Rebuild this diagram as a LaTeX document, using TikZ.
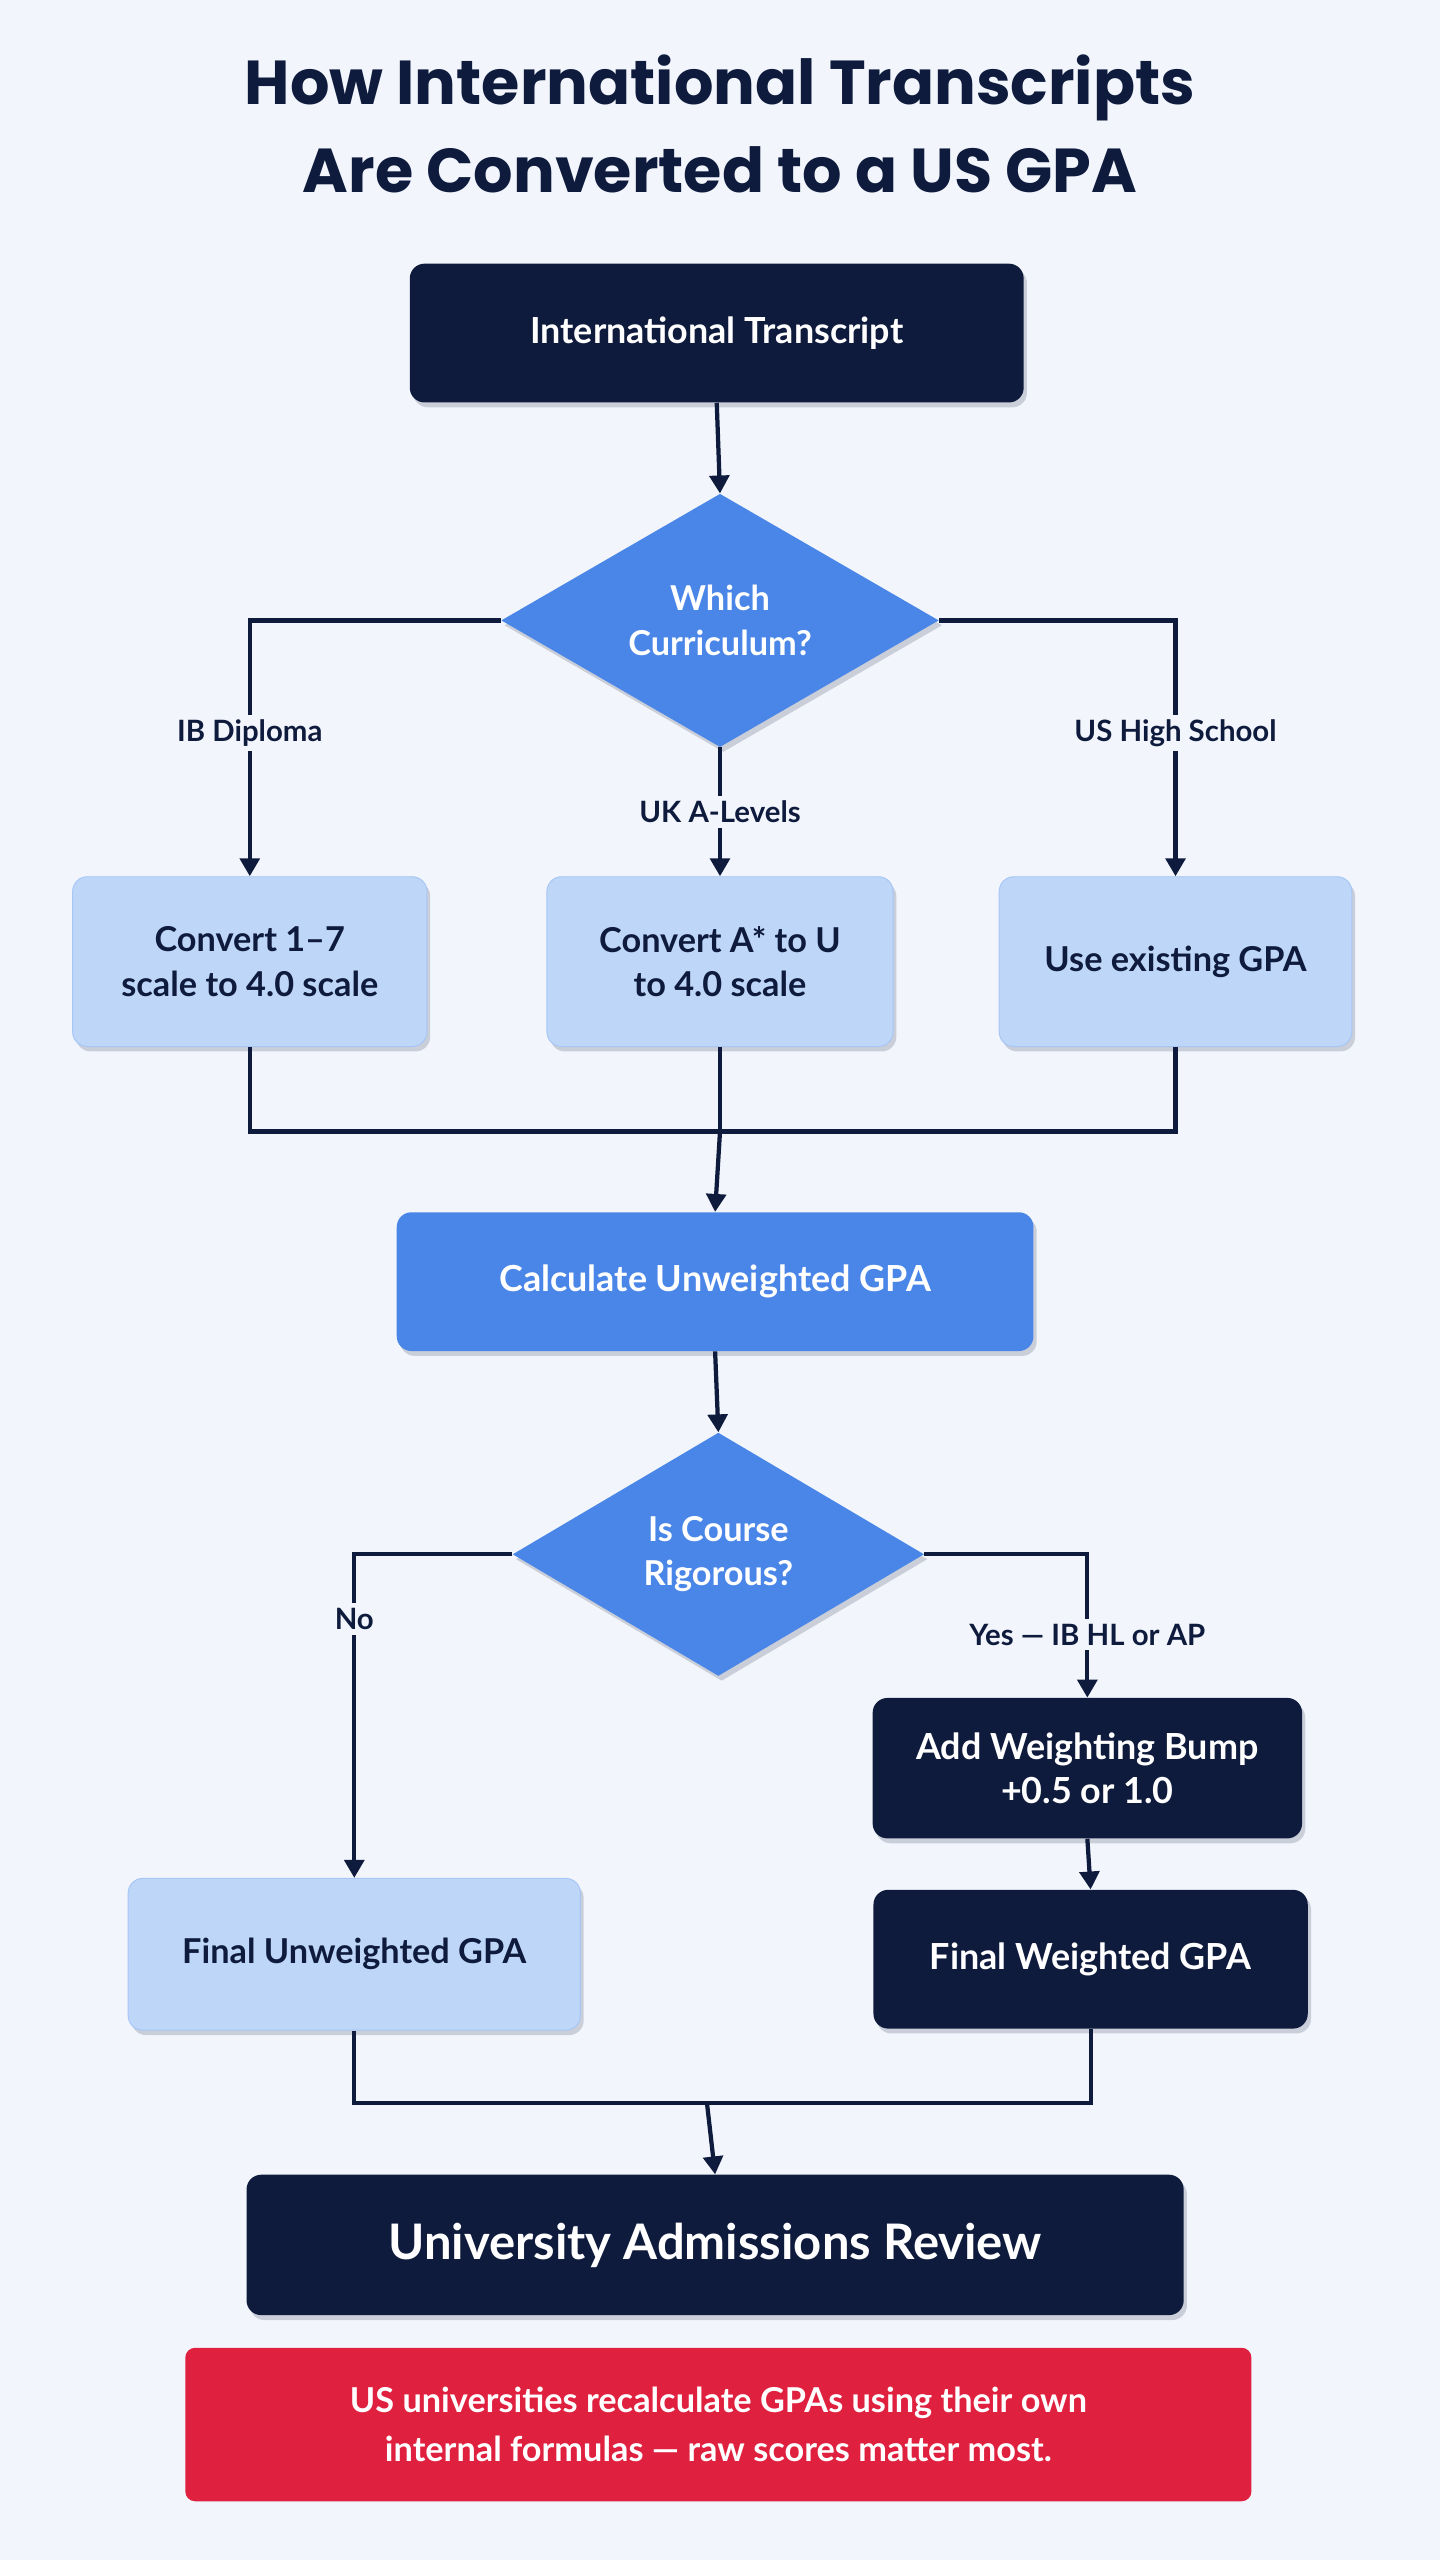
\documentclass[tikz,border=0pt]{standalone}
\usepackage{fontspec}
\setmainfont{Lato}
\newfontfamily\titlefont{Poppins}
\usetikzlibrary{shapes.geometric,arrows.meta,shadows}
\definecolor{navy}{HTML}{0F1B3D}
\definecolor{midblue}{HTML}{4A86E8}
\definecolor{lightblue}{HTML}{BED6F8}
\definecolor{bg}{HTML}{F2F6FC}
\definecolor{redbox}{HTML}{E0203F}
\begin{document}
\begin{tikzpicture}[x=1pt,y=-1pt,
  sh/.style={drop shadow={shadow xshift=2pt,shadow yshift=-3pt,opacity=0.18,fill=navy}},
  darkbox/.style={rounded corners=9pt,fill=navy,text=white,font=\fontsize{22}{27}\selectfont\bfseries,align=center,inner sep=0pt,sh},
  midbox/.style={rounded corners=9pt,fill=midblue,text=white,font=\fontsize{22}{27}\selectfont\bfseries,align=center,inner sep=0pt,sh},
  lightbox/.style={rounded corners=9pt,fill=lightblue,draw=lightblue!80!midblue,line width=0.6pt,text=navy,font=\fontsize{21}{27}\selectfont\bfseries,align=center,inner sep=0pt,sh},
  dia/.style={diamond,fill=midblue,text=white,font=\fontsize{21}{27}\selectfont\bfseries,align=center,inner sep=0pt,sh},
  conn/.style={draw=navy,line width=2.6pt},
  arr/.style={conn,-{Triangle[length=11pt,width=12pt]}},
  lbl/.style={text=navy,font=\fontsize{18}{22}\selectfont\bfseries,fill=bg,inner sep=3pt}]
\fill[bg] (0,0) rectangle (882,1568);
\useasboundingbox (0,0) rectangle (882,1568);
\node[text=navy,font=\titlefont\fontsize{38}{54}\selectfont\bfseries,align=center] (title) at (441,76) {How International Transcripts\\Are Converted to a US GPA};

\node[darkbox,minimum width=376,minimum height=85] (it) at (439,204) {International Transcript};
\node[dia,minimum width=268,minimum height=154] (d1) at (441,380) {Which\\Curriculum?};
\node[lightbox,minimum width=217,minimum height=104] (ib) at (153,589) {Convert 1--7\\scale to 4.0 scale};
\node[lightbox,minimum width=212,minimum height=104] (uk) at (441,589) {Convert A* to U\\to 4.0 scale};
\node[lightbox,minimum width=216,minimum height=104] (us) at (720,589) {Use existing GPA};
\node[midbox,minimum width=390,minimum height=85] (cu) at (438,785) {Calculate Unweighted GPA};
\node[dia,minimum width=252,minimum height=149] (d2) at (440,952) {Is Course\\Rigorous?};
\node[darkbox,minimum width=263,minimum height=86] (wb) at (666,1083) {Add Weighting Bump\\+0.5 or 1.0};
\node[darkbox,minimum width=266,minimum height=85] (fw) at (668,1200) {Final Weighted GPA};
\node[lightbox,minimum width=277,minimum height=93] (fu) at (217,1197) {Final Unweighted GPA};
\node[darkbox,minimum width=574,minimum height=86,font=\fontsize{30}{36}\selectfont\bfseries] (ua) at (438,1375) {University Admissions Review};
\node[rounded corners=6pt,fill=redbox,text=white,minimum width=653,minimum height=94,align=center,inner sep=0pt,font=\fontsize{21}{30}\selectfont\bfseries] (note) at (440,1485) {US universities recalculate GPAs using their own\\internal formulas --- raw scores matter most.};

\coordinate (m1) at (441,693);
\coordinate (m2) at (433,1288);

\draw[arr] (it.south) -- (d1.north);
\draw[arr] (d1.west) -| (ib.north) node[lbl,pos=0.72] {IB Diploma};
\draw[arr] (d1.east) -| (us.north) node[lbl,pos=0.72] {US High School};
\draw[arr] (d1.south) -- (uk.north) node[lbl,midway] {UK A-Levels};
\draw[conn] (ib.south) |- (m1) -| (us.south);
\draw[conn] (uk.south) -- (m1);
\draw[arr] (m1) -- (cu.north);
\draw[arr] (cu.south) -- (d2.north);
\draw[arr] (d2.west) -| (fu.north) node[lbl,pos=0.6] {No};
\draw[arr] (d2.east) -| (wb.north) node[lbl,pos=0.78] {Yes --- IB HL or AP};
\draw[arr] (wb.south) -- (fw.north);
\draw[conn] (fu.south) |- (m2) -| (fw.south);
\draw[arr] (m2) -- (ua.north);
\end{tikzpicture}
\end{document}
